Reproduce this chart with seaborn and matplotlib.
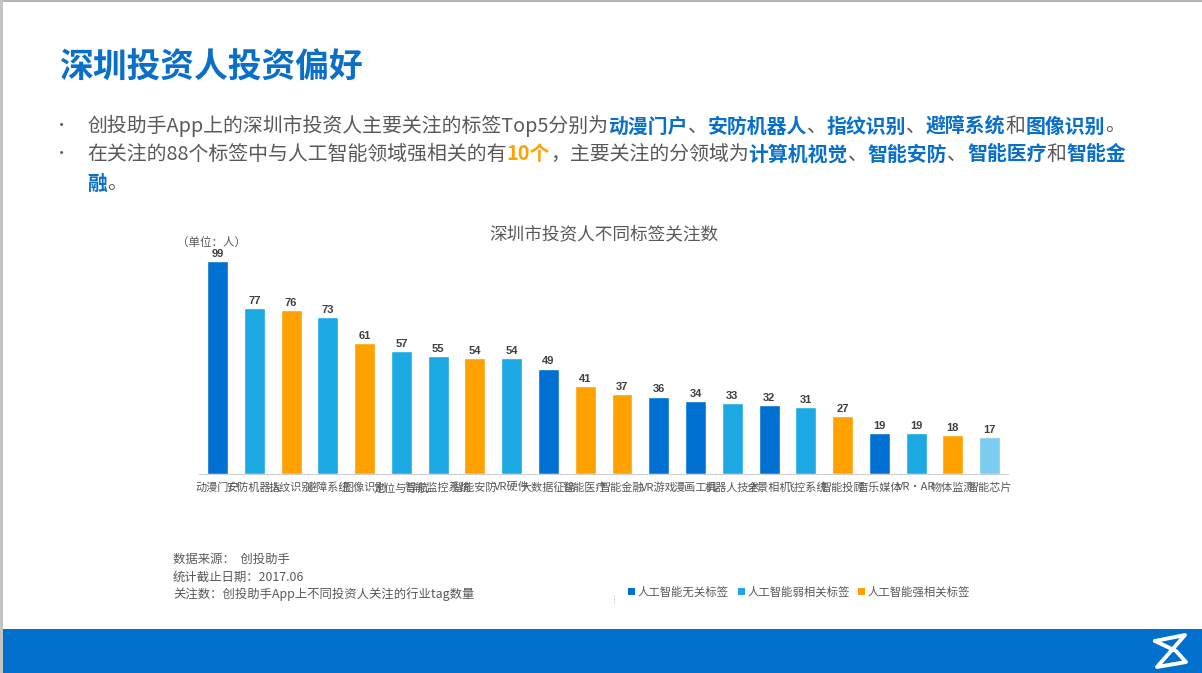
import matplotlib
matplotlib.use('Agg')
import matplotlib.pyplot as plt
import seaborn as sns
import pandas as pd
from matplotlib.patches import Rectangle

tags = ['动漫门户', '安防机器人', '指纹识别', '避障系统', '图像识别', '定位与导航', '智能监控系统',
        '智能安防', 'VR硬件', '大数据征信', '智能医疗', '智能金融', 'VR游戏', '漫画工具',
        '机器人技术', '全景相机', '飞控系统', '智能投顾', '音乐媒体', 'VR·AR', '物体监测', '智能芯片']
counts = [99, 77, 76, 73, 61, 57, 55, 54, 54, 49, 41, 37, 36, 34, 33, 32, 31, 27, 19, 19, 18, 17]
groups = ['无关', '弱相关', '强相关', '弱相关', '强相关', '弱相关', '弱相关', '强相关', '弱相关', '无关', '强相关',
          '强相关', '无关', '无关', '弱相关', '无关', '弱相关', '强相关', '无关', '弱相关', '强相关', '其他']
legend_labels = ['人工智能无关标签', '人工智能弱相关标签', '人工智能强相关标签']

BLUE = '#0070d2'
MID = '#1ba8e3'
ORANGE = '#ffa200'
LIGHT = '#7ccbf0'
GREY = '#595959'
palette = {'无关': BLUE, '弱相关': MID, '强相关': ORANGE, '其他': LIGHT}

sns.set_theme(style='white')
plt.rcParams['font.family'] = ['Noto Sans CJK SC', 'DejaVu Sans']

W, H = 1202, 673
fig = plt.figure(figsize=(W / 100, H / 100), dpi=100)

# full page layer in pixel coordinates
bg = fig.add_axes([0, 0, 1, 1])
bg.set_xlim(0, W)
bg.set_ylim(H, 0)
bg.axis('off')

bg.add_patch(Rectangle((0, 0), W, 1.5, color='#b4b4b4', lw=0))
bg.add_patch(Rectangle((0, 0), 3, H, color='#c4c4c4', lw=0))
bg.add_patch(Rectangle((3, 629), W, 44, color='#0070cc', lw=0))
bg.plot([1155, 1185, 1157, 1186, 1176, 1155], [641, 635, 667, 662, 651, 641], color='white', lw=2.8,
        solid_joinstyle='round')

bg.text(59, 67, '深圳投资人投资偏好', fontsize=24.3, color='#0a6fc9', va='center', fontweight='bold')


def rich_line(x, y, parts, size=14.3):
    # draw coloured pieces one after another on the same line
    r = fig.canvas.get_renderer()
    for s, color, bold in parts:
        t = bg.text(x, y, s, fontsize=size, color=color, va='center', fontweight='bold' if bold else 'normal')
        x += t.get_window_extent(r).width


g = (GREY, False)
b = ('#0a6fc9', True)
bg.text(62, 125, '•', fontsize=11, color=GREY, va='center', ha='center')
bg.text(62, 153, '•', fontsize=11, color=GREY, va='center', ha='center')
rich_line(87, 126, [('创投助手App上的深圳市投资人主要关注的标签Top5分别为', *g), ('动漫门户', *b), ('、', *g), ('安防机器人', *b),
                    ('、', *g), ('指纹识别', *b), ('、', *g), ('避障系统', *b), ('和', *g), ('图像识别', *b), ('。', *g)])
rich_line(87, 154, [('在关注的88个标签中与人工智能领域强相关的有', *g), ('10个', ORANGE, True), ('，主要关注的分领域为', *g),
                    ('计算机视觉', *b), ('、', *g), ('智能安防', *b), ('、', *g), ('智能医疗', *b), ('和', *g), ('智能金', *b)])
rich_line(87, 184, [('融', *b), ('。', *g)])

bg.text(604, 234, '深圳市投资人不同标签关注数', fontsize=12.7, color=GREY, ha='center', va='center')
bg.text(177, 242, '（单位：人）', fontsize=8.3, color=GREY, va='center')

bg.text(173, 559, '数据来源：  创投助手', fontsize=8.9, color=GREY, va='center')
bg.text(173, 577, '统计截止日期：2017.06', fontsize=8.9, color=GREY, va='center')
bg.text(173, 594, '关注数：创投助手App上不同投资人关注的行业tag数量', fontsize=8.9, color=GREY, va='center')

# bar chart
x0, x1 = 199.2, 1008
y_top, y_base = 250, 474
ax = fig.add_axes([x0 / W, 1 - y_base / H, (x1 - x0) / W, (y_base - y_top) / H])
ax.patch.set_alpha(0)
df = pd.DataFrame({'tag': tags, 'count': counts, 'group': groups})
sns.barplot(data=df, x='tag', y='count', hue='group', palette=palette, dodge=False, width=0.57,
            saturation=1, legend=False, ax=ax)
ax.set_xlim(-0.5, len(tags) - 0.5)
ax.set_ylim(0, 99 * (y_base - y_top) / 213)
ax.set_xlabel('')
ax.set_ylabel('')
ax.set_yticks([])
sns.despine(ax=ax, left=True)
ax.spines['bottom'].set_color('#d0d0d0')
ax.spines['bottom'].set_linewidth(0.8)
ax.tick_params(axis='x', length=0, pad=6, labelsize=8, labelcolor=GREY)
for i, c in enumerate(counts):
    ax.annotate(str(c), (i, c), xytext=(0, 1.5), textcoords='offset points', ha='center', va='bottom',
                fontsize=8, fontweight='bold', color='#404040', family=['Liberation Sans', 'DejaVu Sans'])

# legend
for lx, tx, color, label in zip([628, 738, 858], [638, 748, 868], [BLUE, MID, ORANGE], legend_labels):
    bg.add_patch(Rectangle((lx, 588), 7, 7, color=color, lw=0))
    bg.text(tx, 592, label, fontsize=8.2, color=GREY, va='center')
bg.plot([614, 614], [595, 603], color='#888888', lw=0.5, ls=':')

fig.savefig('out.png', dpi=100)
